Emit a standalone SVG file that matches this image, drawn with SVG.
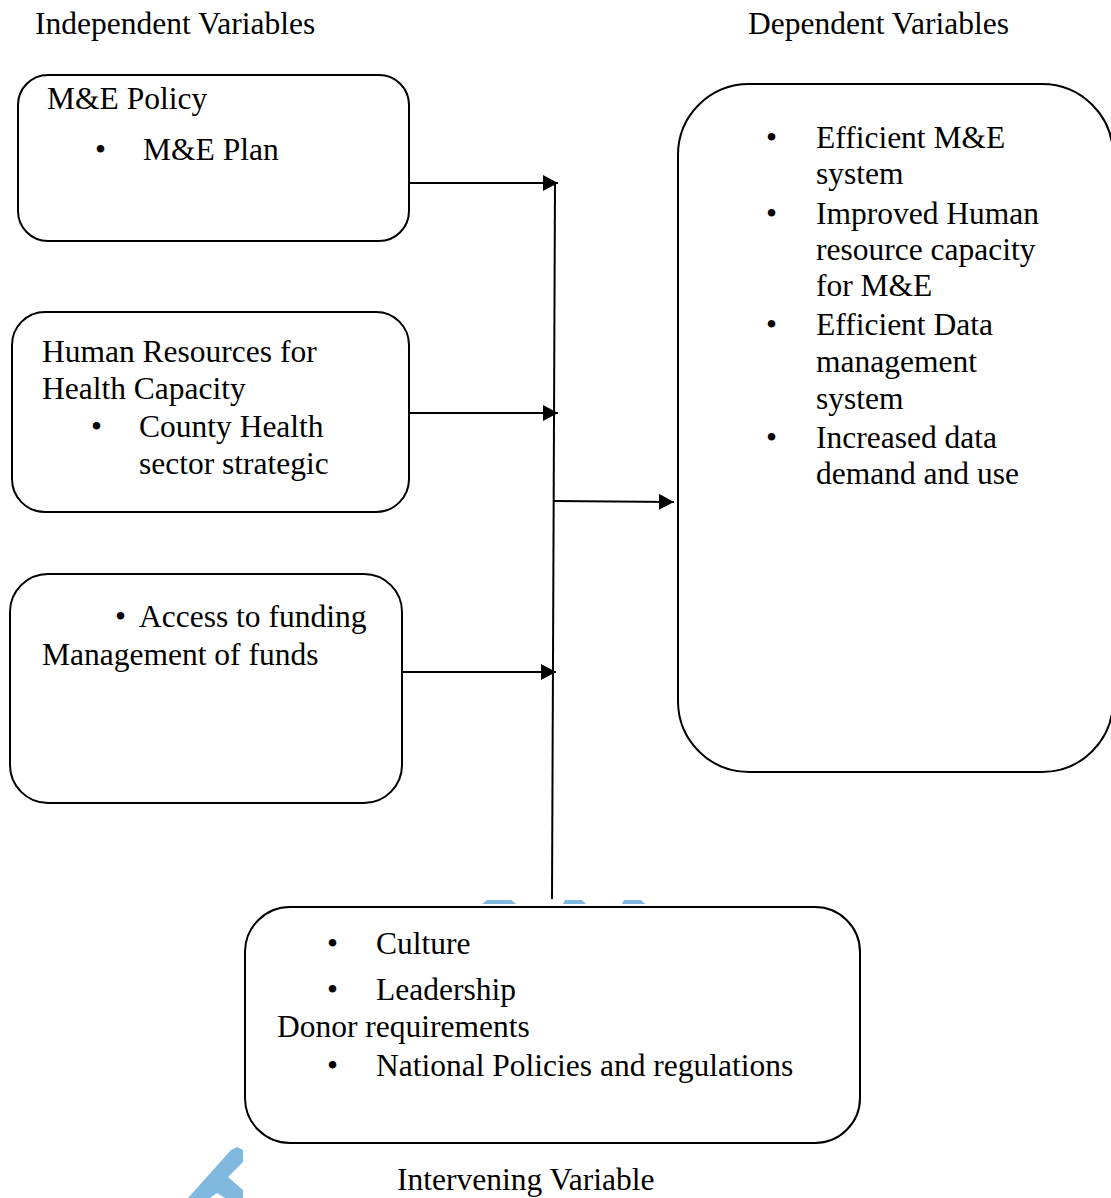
<svg xmlns="http://www.w3.org/2000/svg" width="1111" height="1198" viewBox="0 0 1111 1198">
<defs>
<style>
.box{fill:#fff;stroke:#000;stroke-width:2}
.ln{fill:none;stroke:#000;stroke-width:2}
text{font-family:"Liberation Serif","Times New Roman",serif;font-size:31.5px;fill:#000}
.wm{fill:#80b8e0}
</style>
<marker id="ah" markerUnits="userSpaceOnUse" markerWidth="16" markerHeight="18" refX="15" refY="8" orient="auto">
<path d="M0,0 L15,8 L0,16 Z" fill="#000"/>
</marker>
</defs>
<rect width="1111" height="1198" fill="#fff"/>
<g id="watermark">
<polygon class="wm" points="482,904 487,900 511,900 516,904"/>
<polygon class="wm" points="563,904 565,900 582,900 586,904"/>
<polygon class="wm" points="622,904 624,900 641,900 645,904"/>
<polygon class="wm" points="188,1198 231,1150 237,1147 243,1150 243,1162 228,1177 243,1190 243,1198 225,1198 217,1193 210,1198"/>
</g>
<g id="headers">
<text x="35" y="34">Independent Variables</text>
<text x="748" y="34">Dependent Variables</text>
</g>
<g id="connectors">
<line class="ln" x1="555" y1="183" x2="552" y2="899"/>
<line class="ln" x1="406" y1="183" x2="558" y2="183" marker-end="url(#ah)"/>
<line class="ln" x1="408" y1="413" x2="558" y2="413" marker-end="url(#ah)"/>
<line class="ln" x1="402" y1="672" x2="556" y2="672" marker-end="url(#ah)"/>
<line class="ln" x1="554" y1="501" x2="674" y2="502" marker-end="url(#ah)"/>
</g>
<g id="node-policy">
<rect class="box" x="18" y="75" width="391" height="166" rx="30"/>
<text x="47" y="109">M&amp;E Policy</text>
<text x="95" y="160">•</text>
<text x="143" y="160">M&amp;E Plan</text>
</g>
<g id="node-hr">
<rect class="box" x="12" y="312" width="397" height="200" rx="33"/>
<text x="42" y="362">Human Resources for</text>
<text x="42" y="399">Health Capacity</text>
<text x="91" y="437">•</text>
<text x="139" y="437">County Health</text>
<text x="139" y="474">sector strategic</text>
</g>
<g id="node-funding">
<rect class="box" x="10" y="574" width="392" height="229" rx="38"/>
<text x="115" y="627">•</text>
<text x="139" y="627">Access to funding</text>
<text x="42" y="665">Management of funds</text>
</g>
<g id="node-dependent">
<rect class="box" x="678" y="84" width="435" height="688" rx="71"/>
<text x="766" y="148">•</text>
<text x="816" y="148">Efficient M&amp;E</text>
<text x="816" y="184">system</text>
<text x="766" y="224">•</text>
<text x="816" y="224">Improved Human</text>
<text x="816" y="260">resource capacity</text>
<text x="816" y="296">for M&amp;E</text>
<text x="766" y="335">•</text>
<text x="816" y="335">Efficient Data</text>
<text x="816" y="372">management</text>
<text x="816" y="409">system</text>
<text x="766" y="448">•</text>
<text x="816" y="448">Increased data</text>
<text x="816" y="484">demand and use</text>
</g>
<g id="node-intervening">
<rect class="box" x="245" y="907" width="615" height="236" rx="45"/>
<text x="327" y="954">•</text>
<text x="376" y="954">Culture</text>
<text x="327" y="1000">•</text>
<text x="376" y="1000">Leadership</text>
<text x="277" y="1037">Donor requirements</text>
<text x="327" y="1076">•</text>
<text x="376" y="1076">National Policies and regulations</text>
</g>
<g id="label-intervening">
<text x="397" y="1190">Intervening Variable</text>
</g>
</svg>
